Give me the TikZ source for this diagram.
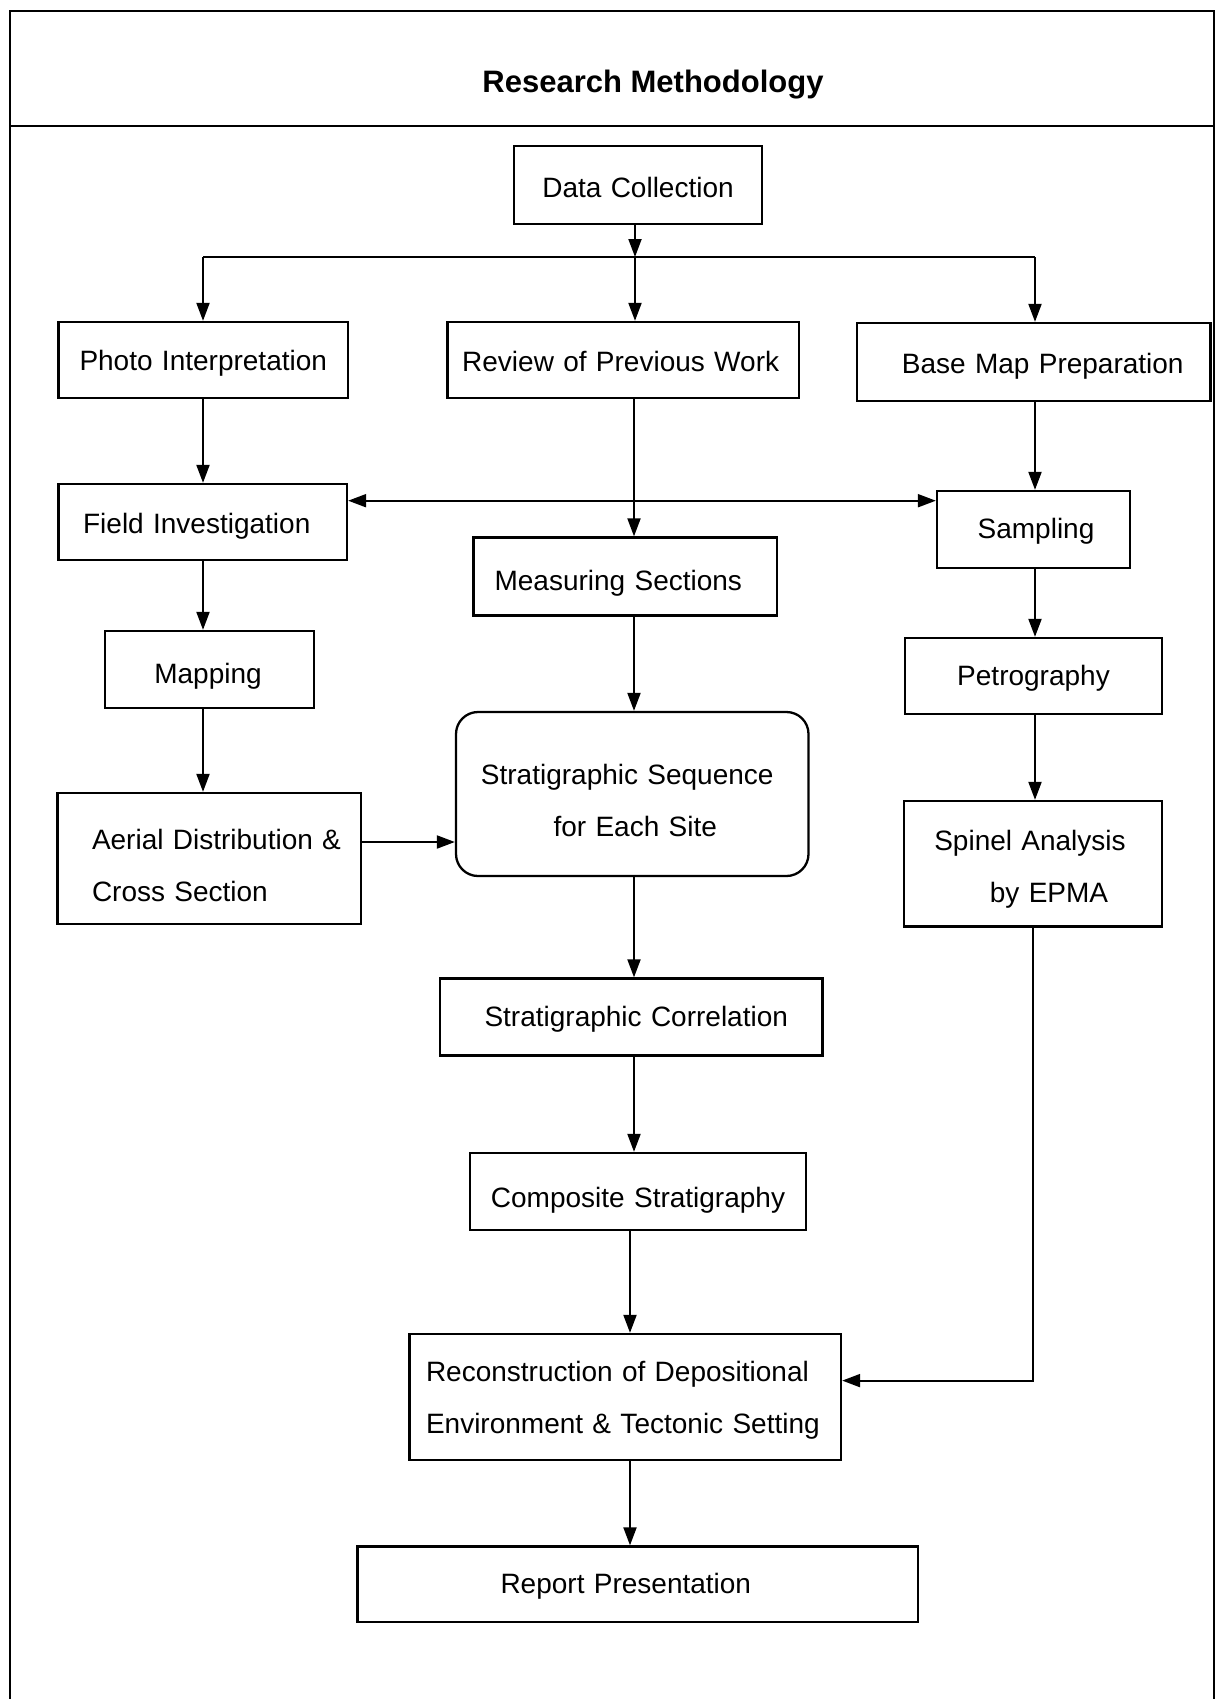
\documentclass[tikz,border=0pt]{standalone}
\usepackage{fontspec}
\setmainfont{Liberation Sans}
\usetikzlibrary{arrows.meta}
\newcommand\strA{\rule[-4pt]{0pt}{28pt}}
\newcommand\strB{\rule[-2pt]{0pt}{37pt}}
\newcommand\vs[1]{\rule[-4pt]{0pt}{#1}}
\newcommand\gap[1]{\makebox[#1]{}}
\tikzset{
  box/.style={draw, line width=2.3pt, inner sep=0pt, align=center,
    font=\fontsize{28pt}{52pt}\selectfont},
  lbox/.style={box, align=left},
  arr/.style={line width=2pt, -{Triangle[length=18pt,width=13pt]}},
  dbl/.style={line width=2pt, {Triangle[length=18pt,width=13pt]}-{Triangle[length=18pt,width=13pt]}},
  frame/.style={line width=2.6pt},
}
\begin{document}
\begin{tikzpicture}[x=1pt,y=-1pt]
\useasboundingbox (0,0) rectangle (1217,1699);
% frame
\draw[frame] (10,1699) -- (10,11) -- (1214,11) -- (1214,1699);
\draw[frame] (10,126) -- (1214,126);
\node[font=\bfseries\fontsize{31pt}{37pt}\selectfont, anchor=base, inner sep=0pt] (title) at (653,93) {Research Methodology};

% boxes
\node[box, text width=248pt, minimum height=78pt] (dc) at (638,185) {\vs{32pt}Data Collection};
\node[box, text width=289.5pt, minimum height=76pt] (photo) at (203.25,360) {\vs{30pt}Photo Interpretation};
\node[box, text width=351.1pt, minimum height=76pt] (review) at (623.15,360) {\vs{30pt}Review of Previous Work\gap{5pt}};
\node[box, text width=353.5pt, minimum height=78pt] (base) at (1033.75,362) {\gap{18pt}\vs{32pt}Base Map Preparation};
\node[box, text width=288.5pt, minimum height=76pt] (field) at (202.75,522) {\vs{33.4pt}Field Investigation\gap{12pt}};
\node[box, text width=193pt, minimum height=77pt] (samp) at (1033.5,529.5) {\gap{5pt}\strA Sampling};
\node[box, text width=303.4pt, minimum height=78pt] (meas) at (625.3,576.5) {\vs{38pt}Measuring Sections\gap{14pt}};
\node[box, text width=209pt, minimum height=77pt] (map) at (209.5,669.5) {\vs{37.4pt}Mapping\gap{3pt}};
\node[box, text width=257pt, minimum height=76pt] (petro) at (1033.5,676) {\strA Petrography};
\node[box, rounded corners=22pt, text width=352.5pt, minimum height=164pt] (seq) at (632.25,794)
  {\strB Stratigraphic Sequence\gap{10pt}\\ \gap{6pt}for Each Site\strB};
\node[lbox, text width=303.6pt, minimum height=131pt] (aerial) at (209.2,858.5)
  {\gap{34.6pt}\strB Aerial Distribution \&\\ \gap{34.6pt}Cross Section\strB};
\node[box, text width=258pt, minimum height=125.5pt] (spinel) at (1033,863.75)
  {\vs{36pt}Spinel Analysis\gap{6pt}\\ \gap{32pt}by EPMA\vs{36pt}};
\node[box, text width=382.5pt, minimum height=77pt] (corr) at (631.25,1017) {\gap{10pt}\strA Stratigraphic Correlation};
\node[box, text width=336pt, minimum height=77pt] (comp) at (638,1191.5) {\vs{42pt}Composite Stratigraphy};
\node[lbox, text width=431.4pt, minimum height=126pt] (recon) at (625.3,1397)
  {\gap{16.4pt}\vs{31pt}Reconstruction of Depositional\\ \gap{16.4pt}Environment \& Tectonic Setting\vs{31pt}};
\node[box, text width=560.4pt, minimum height=75.5pt] (report) at (637.8,1584.25) {\strA Report Presentation\gap{24pt}};

% helper coordinates
\coordinate (cL) at (203,0);
\coordinate (cM) at (634,0);
\coordinate (cM2) at (630,0);
\coordinate (cR) at (1035,0);
\coordinate (j) at (635,257);
\coordinate (yf) at (0,500.7);
\coordinate (ya) at (0,842);
\coordinate (yk) at (0,1380.6);

% connectors
\draw[arr] (dc.south -| j) -- (j);
\draw[line width=2pt] (j -| cL) -- (j -| cR);
\draw[arr] (j -| cL) -- (photo.north -| cL);
\draw[arr] (j) -- (review.north -| j);
\draw[arr] (j -| cR) -- (base.north -| cR);
\draw[arr] (photo.south -| cL) -- (field.north -| cL);
\draw[dbl] (field.east |- yf) -- (samp.west |- yf);
\draw[arr] (review.south -| cM) -- (meas.north -| cM);
\draw[arr] (base.south -| cR) -- (samp.north -| cR);
\draw[arr] (field.south -| cL) -- (map.north -| cL);
\draw[arr] (meas.south -| cM) -- (seq.north -| cM);
\draw[arr] (samp.south -| cR) -- (petro.north -| cR);
\draw[arr] (map.south -| cL) -- (aerial.north -| cL);
\draw[arr] (aerial.east |- ya) -- (seq.west |- ya);
\draw[arr] (petro.south -| cR) -- (spinel.north -| cR);
\draw[arr] (seq.south -| cM) -- (corr.north -| cM);
\draw[arr] (corr.south -| cM) -- (comp.north -| cM);
\draw[arr] (comp.south -| cM2) -- (recon.north -| cM2);
\draw[arr] (spinel.south) |- (recon.east |- yk);
\draw[arr] (recon.south -| cM2) -- (report.north -| cM2);
\end{tikzpicture}
\end{document}
